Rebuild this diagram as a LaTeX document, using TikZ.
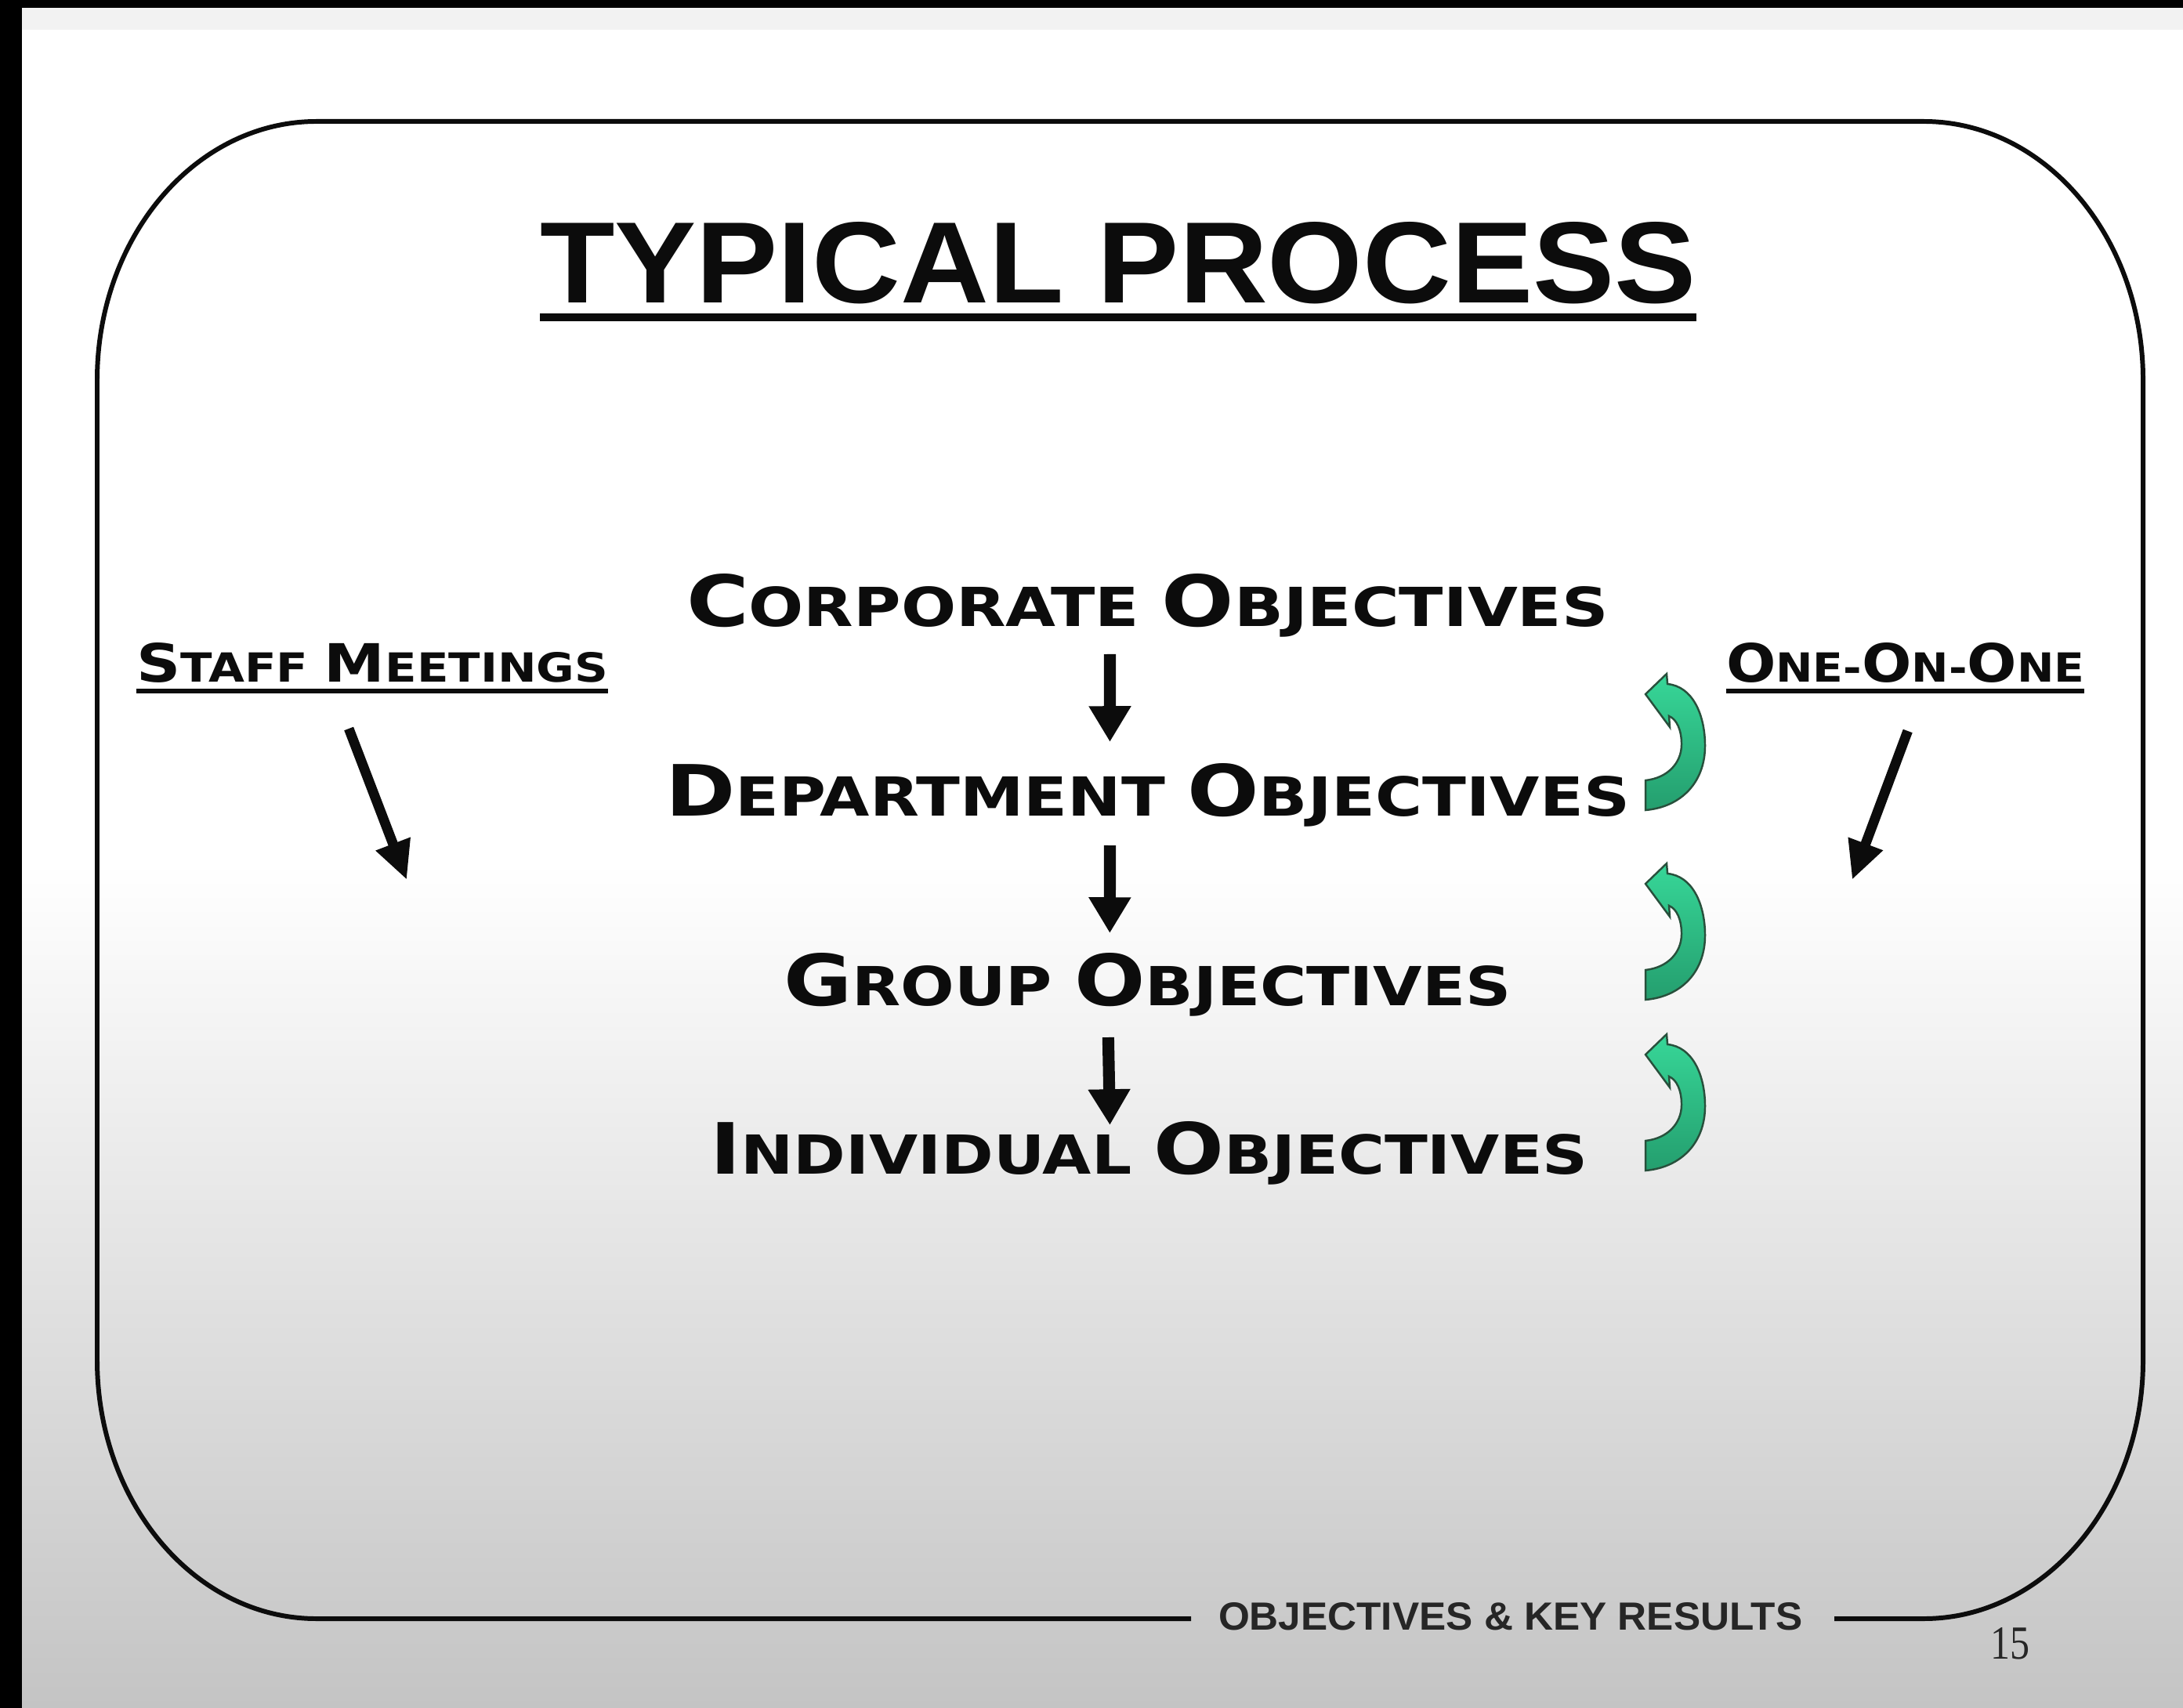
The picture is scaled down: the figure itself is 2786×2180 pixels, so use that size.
\documentclass[tikz,border=0pt]{standalone}
\usepackage{fontspec}
\usepackage{graphicx}
\setmainfont{Liberation Sans}
\newfontfamily\scfont{DejaVu Sans}
\newfontfamily\titlefont{Liberation Sans}
\newfontfamily\pgnumfont{Liberation Serif}
\usetikzlibrary{arrows.meta}
\definecolor{ink}{RGB}{12,12,12}
\definecolor{footink}{RGB}{38,38,38}
\definecolor{bgbot}{RGB}{196,196,196}
\definecolor{glight}{RGB}{55,215,152}
\definecolor{gdark}{RGB}{36,158,110}
\definecolor{gline}{RGB}{40,80,60}
\newcommand\scw[2]{{\fontsize{10pt}{12pt}\selectfont #1}{\fontsize{7.6pt}{9pt}\selectfont #2}}
\newcommand\scline[3]{\resizebox{#1}{#2}{\scfont\bfseries\fontsize{7.6pt}{9pt}\selectfont #3}}
\tikzset{
  txt/.style={inner sep=0pt, outer sep=0pt, anchor=base west, text=ink},
  darr/.style={draw=ink, line width=4.3pt, -{Triangle[width=14.5pt,length=13pt]}},
  sarr/.style={draw=ink, line width=3.6pt, -{Triangle[width=12.5pt,length=14pt]}},
  uline/.style={draw=ink, line width=#1},
  frame/.style={draw=ink, line width=1.7pt},
  greenarr/.pic={
    \path[draw=gline, line width=0.7pt, top color=glight, bottom color=gdark]
      (0,26) -- (27,0) -- (28,13)
      .. controls (60,16) and (76,52) .. (76,92)
      .. controls (76,138) and (46,170) .. (0,174)
      -- (0,136)
      .. controls (28,133) and (46,114) .. (46,90)
      .. controls (46,72) and (40,58) .. (30,54)
      -- (31,68) -- cycle;
  }
}
\begin{document}
\begin{tikzpicture}[x=0.01cm, y=-0.01cm]
\useasboundingbox (0,0) rectangle (2786,2180);
% background
\fill[white] (0,0) rectangle (2786,2180);
\shade[top color=white, bottom color=bgbot] (0,1100) rectangle (2786,2180);
\fill[black!5] (0,10) rectangle (2786,38);
\fill[black] (0,0) rectangle (2786,10);
\fill[black] (0,0) rectangle (28,2180);

% frame
\draw[frame] (1520,2066) -- (404,2066)
  .. controls (249,2066) and (124,1918) .. (124,1736)
  -- (124,485)
  .. controls (124,303) and (249,155) .. (404,155)
  -- (2455,155)
  .. controls (2610,155) and (2735,303) .. (2735,485)
  -- (2735,1736)
  .. controls (2735,1918) and (2610,2066) .. (2455,2066)
  -- (2341,2066);

% title
\node[txt] (title) at (689,387) {\resizebox{14.75cm}{1.03cm}{\titlefont\bfseries TYPICAL PROCESS}};
\draw[uline=2.85pt] ([shift={(0,18)}]title.base west) -- ([shift={(0,18)}]title.base east);

% central chain
\node[txt] (corp) at (876,800) {\scline{11.76cm}{0.67cm}{\scw{C}{ORPORATE} \scw{O}{BJECTIVES}}};
\node[txt] (dept) at (849,1041) {\scline{12.30cm}{0.67cm}{\scw{D}{EPARTMENT} \scw{O}{BJECTIVES}}};
\node[txt] (group) at (1000,1283) {\scline{9.28cm}{0.67cm}{\scw{G}{ROUP} \scw{O}{BJECTIVES}}};
\node[txt] (indiv) at (906,1498) {\scline{11.20cm}{0.67cm}{\scw{I}{NDIVIDUAL} \scw{O}{BJECTIVES}}};

\draw[darr] ([shift={(-48,35)}]corp.base) -- ([shift={(-48,-27)}]dept.north);
\draw[darr] ([shift={(-48,38)}]dept.base) -- ([shift={(-48,-25)}]group.north);
\draw[darr] ([shift={(-50,41)}]group.base) -- ([shift={(-50,5)}]indiv.north);

% side labels
\node[txt] (staff) at (174,871) {\scline{6.02cm}{0.50cm}{\scw{S}{TAFF} \scw{M}{EETINGS}}};
\draw[uline=1.7pt] ([shift={(0,11)}]staff.base west) -- ([shift={(0,11)}]staff.base east);
\draw[sarr] ([shift={(-30,59)}]staff.base) -- ([shift={(44,252)}]staff.base);

\node[txt] (oneone) at (2203,871) {\scline{4.57cm}{0.50cm}{\scw{O}{NE}-\scw{O}{N}-\scw{O}{NE}}};
\draw[uline=1.7pt] ([shift={(0,11)}]oneone.base west) -- ([shift={(0,11)}]oneone.base east);
\draw[sarr] ([shift={(3,62)}]oneone.base) -- ([shift={(-68,252)}]oneone.base);

% green curved arrows
\pic (g1) at (2100,860) {greenarr};
\pic (g2) at (2100,1102) {greenarr};
\pic (g3) at (2100,1320) {greenarr};

% footer
\node[txt, text=footink] (foot) at (1555,2080) {\resizebox{7.45cm}{0.35cm}{\bfseries OBJECTIVES \& KEY RESULTS}};
\node[txt, text=footink] (pg) at (2540,2117) {\resizebox{0.5cm}{0.4cm}{\pgnumfont 15}};
\end{tikzpicture}
\end{document}
